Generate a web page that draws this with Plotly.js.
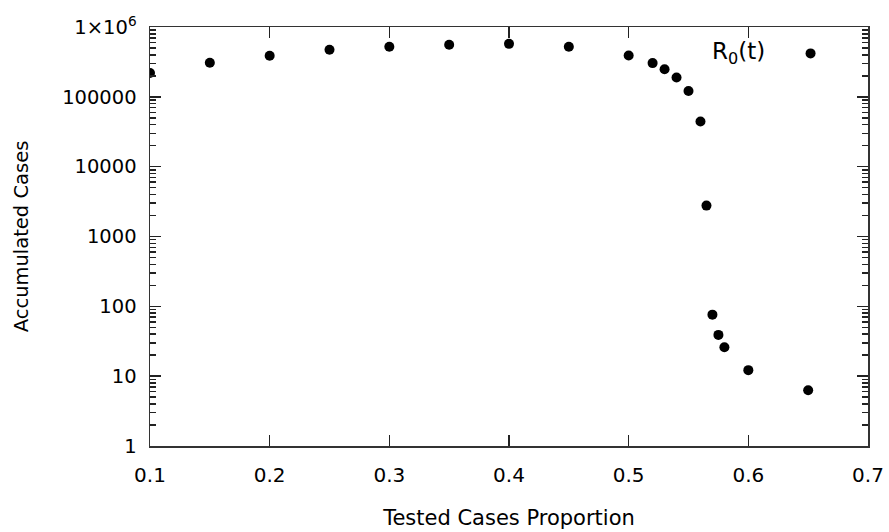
<!DOCTYPE html>
<html>
<head>
<meta charset="utf-8">
<script src="https://cdn.plot.ly/plotly-3.0.1.min.js"></script>
<style>html,body{margin:0;padding:0;background:#fff;}#chart{width:889px;height:532px;}</style>
</head>
<body>
<div id="chart"></div>
<script>
// Tested cases proportion (x) and accumulated cases (y)
const proportion = [0.10, 0.15, 0.20, 0.25, 0.30, 0.35, 0.40, 0.45, 0.50, 0.52, 0.53, 0.54, 0.55, 0.56, 0.565, 0.57, 0.575, 0.58, 0.60, 0.65];
const accumulatedCases = [220000, 307000, 387000, 471000, 520000, 556000, 574000, 520000, 390000, 304000, 249000, 189000, 121000, 44300, 2770, 76, 39, 26, 12.2, 6.3];
const seriesName = "R<sub>0</sub>(t)";
const yTickVals = [1, 10, 100, 1000, 10000, 100000, 1000000];
const yTickText = ["1", "10", "100", "1000", "10000", "100000", "1×10<sup>6</sup>"];
const xTickVals = [0.1, 0.2, 0.3, 0.4, 0.5, 0.6, 0.7];
const xTickText = ["0.1", "0.2", "0.3", "0.4", "0.5", "0.6", "0.7"];
const xRange = [0.1, 0.7];
const yRangeLog = [0, 6];

// minor log ticks (2..9 within each decade)
const yMinorVals = [];
yTickVals.slice(0, -1).forEach(function (d) {
  for (let m = 2; m <= 9; m++) yMinorVals.push(d * m);
});

const font = "DejaVu Sans, Verdana, sans-serif";
const axisColor = "#333333";
const tickColor = "#222222";

const trace = {
  x: proportion,
  y: accumulatedCases,
  type: "scatter",
  mode: "markers",
  name: seriesName,
  marker: {color: "#000000", size: 10},
  showlegend: false,
  hoverinfo: "x+y"
};

// invisible copy on the overlay axes, so that the inside tick marks get drawn
const tickCarrier = {
  x: proportion,
  y: accumulatedCases,
  xaxis: "x2",
  yaxis: "y2",
  type: "scatter",
  mode: "markers",
  marker: {color: "rgba(0,0,0,0)", size: 1},
  showlegend: false,
  hoverinfo: "skip"
};

const layout = {
  width: 889,
  height: 532,
  margin: {l: 150, r: 21, t: 27, b: 86},
  paper_bgcolor: "#ffffff",
  plot_bgcolor: "#ffffff",
  font: {family: font, size: 19, color: "#000000"},
  showlegend: false,
  // main axes: carry labels and titles (transparent outside ticks give label spacing)
  xaxis: {
    range: xRange,
    tickmode: "array",
    tickvals: xTickVals,
    ticktext: xTickText,
    ticks: "outside",
    ticklen: 10,
    tickcolor: "rgba(0,0,0,0)",
    showline: true,
    linecolor: axisColor,
    linewidth: 1.5,
    mirror: true,
    showgrid: false,
    zeroline: false,
    tickfont: {family: font, size: 20, color: "#000000"},
    title: {text: "Tested Cases Proportion", font: {family: font, size: 21, color: "#000000"}, standoff: 25}
  },
  yaxis: {
    type: "log",
    range: yRangeLog,
    tickmode: "array",
    tickvals: yTickVals,
    ticktext: yTickText,
    ticks: "outside",
    ticklen: 8,
    tickcolor: "rgba(0,0,0,0)",
    showline: true,
    linecolor: axisColor,
    linewidth: 1.5,
    mirror: true,
    showgrid: false,
    zeroline: false,
    tickfont: {family: font, size: 19.5, color: "#000000"},
    title: {text: "Accumulated Cases", font: {family: font, size: 19.5, color: "#000000"}, standoff: 28}
  },
  // overlay axes: inside tick marks on all four sides
  xaxis2: {
    overlaying: "x",
    anchor: "y2",
    side: "bottom",
    range: xRange,
    tickmode: "array",
    tickvals: xTickVals,
    ticks: "inside",
    ticklen: 11,
    tickwidth: 1.5,
    tickcolor: tickColor,
    mirror: "ticks",
    showline: false,
    showticklabels: false,
    showgrid: false,
    zeroline: false
  },
  yaxis2: {
    overlaying: "y",
    anchor: "x2",
    side: "left",
    type: "log",
    range: yRangeLog,
    tickmode: "array",
    tickvals: yTickVals,
    ticks: "inside",
    ticklen: 11,
    tickwidth: 1.5,
    tickcolor: tickColor,
    minor: {tickmode: "array", tickvals: yMinorVals, ticks: "inside", ticklen: 6, tickwidth: 1.5, tickcolor: tickColor, showgrid: false},
    mirror: "ticks",
    showline: false,
    showticklabels: false,
    showgrid: false,
    zeroline: false
  },
  annotations: [{
    xref: "paper", yref: "paper",
    x: 0.859, y: 0.938,
    xanchor: "right", yanchor: "middle",
    text: seriesName,
    showarrow: false,
    font: {family: font, size: 23, color: "#000000"}
  }],
  shapes: [{
    type: "circle",
    xref: "paper", yref: "paper",
    xsizemode: "pixel", ysizemode: "pixel",
    xanchor: 0.920, yanchor: 0.937,
    x0: -5, x1: 5, y0: -5, y1: 5,
    fillcolor: "#000000",
    line: {width: 0}
  }]
};

Plotly.newPlot("chart", [trace, tickCarrier], layout, {displayModeBar: false, staticPlot: true});
</script>
</body>
</html>
